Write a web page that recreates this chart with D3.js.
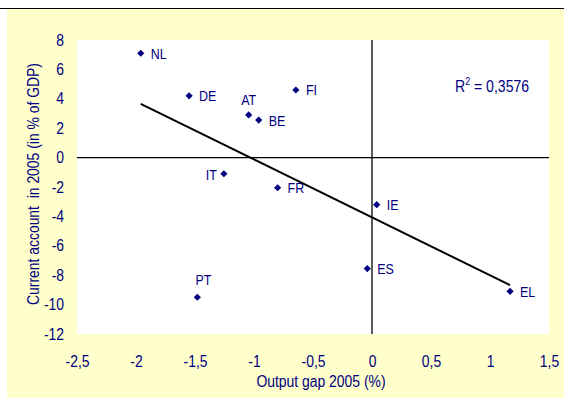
<!DOCTYPE html>
<html><head><meta charset="utf-8">
<script src="https://cdn.jsdelivr.net/npm/d3@7"></script>
<style>body{margin:0;background:#fff}svg{display:block}</style>
</head><body>
<script>
// ---- data ----
const countries = ["NL","DE","AT","BE","FI","IT","FR","IE","ES","PT","EL"];
const outputGap = [-1.96,-1.55,-1.045,-0.96,-0.645,-1.255,-0.80,0.04,-0.04,-1.48,1.17];
const currentAccount = [7.1,4.2,2.9,2.55,4.6,-1.1,-2.05,-3.2,-7.55,-9.5,-9.1];
const xTicks = [-2.5,-2,-1.5,-1,-0.5,0,0.5,1,1.5];
const yTicks = [8,6,4,2,0,-2,-4,-6,-8,-10,-12];
const rSquaredText = "0,3576";
const xTitle = "Output gap 2005 (%)";
const yTitle = "Current account  in 2005 (in % of GDP)";

// label placement (layout config)
const labelPlace = {NL:"right",DE:"right",AT:"above",BE:"right",FI:"right",IT:"left",FR:"right",IE:"right",ES:"right",PT:"aboveR",EL:"right"};

const W = 564, H = 402;
const plot = {l:77, r:549, t:40, b:334};
const navy = "#000080";
const font = "'Liberation Sans', Arial, sans-serif";
const SX = 0.87;

const svg = d3.select("body").append("svg").attr("width", W).attr("height", H);
svg.append("rect").attr("width", W).attr("height", H).attr("fill", "#fff");
svg.append("rect").attr("x", 7).attr("y", 9).attr("width", W-7).attr("height", 389).attr("fill", "#ffffcc");
svg.append("line").attr("x1", 0).attr("x2", W).attr("y1", 8.5).attr("y2", 8.5).attr("stroke", "#000").attr("stroke-width", 1);
svg.append("rect").attr("x", plot.l).attr("y", plot.t).attr("width", plot.r-plot.l).attr("height", plot.b-plot.t).attr("fill", "#fff");

const x = d3.scaleLinear().domain([-2.5, 1.5]).range([plot.l, plot.r]);
const y = d3.scaleLinear().domain([-12, 8]).range([plot.b, plot.t]);
const fmt = d => String(d).replace(".", ",");

// axes (labels only)
const xAxis = svg.append("g").attr("transform", `translate(0,${plot.b})`)
  .call(d3.axisBottom(x).tickValues(xTicks).tickFormat(fmt).tickSize(0).tickPadding(22));
const yAxis = svg.append("g").attr("transform", `translate(${plot.l},0)`)
  .call(d3.axisLeft(y).tickValues(yTicks).tickFormat(fmt).tickSize(0).tickPadding(13));
[xAxis, yAxis].forEach(g => {
  g.select(".domain").remove();
  g.selectAll("text").attr("fill", navy).attr("font-family", font).attr("font-size", 16);
});
yAxis.selectAll("text").attr("transform", `scale(${SX},1)`).attr("x", -13/SX);
xAxis.selectAll("text").attr("transform", `scale(${SX},1)`);

// zero lines
svg.append("line").attr("x1", plot.l).attr("x2", plot.r).attr("y1", y(0)).attr("y2", y(0))
  .attr("stroke", "#000").attr("stroke-width", 1.3);
svg.append("line").attr("x1", x(0)).attr("x2", x(0)).attr("y1", plot.t).attr("y2", plot.b)
  .attr("stroke", "#000").attr("stroke-width", 1.3);

// linear trend (least squares)
const n = countries.length;
const mx = d3.mean(outputGap), my = d3.mean(currentAccount);
let sxy = 0, sxx = 0;
for (let i = 0; i < n; i++) { sxy += (outputGap[i]-mx)*(currentAccount[i]-my); sxx += (outputGap[i]-mx)**2; }
const slope = sxy/sxx, icpt = my - slope*mx;
const [x0, x1] = d3.extent(outputGap);
svg.append("line").attr("x1", x(x0)).attr("y1", y(icpt+slope*x0)).attr("x2", x(x1)).attr("y2", y(icpt+slope*x1))
  .attr("stroke", "#000").attr("stroke-width", 2);

// points
const pts = countries.map((c, i) => ({c, gx: outputGap[i], ca: currentAccount[i]}));
svg.append("g").selectAll("path").data(pts).join("path")
  .attr("transform", d => `translate(${x(d.gx)},${y(d.ca)})`)
  .attr("d", "M0,-3.6L3.6,0L0,3.6L-3.6,0Z").attr("fill", navy);

const LS = 0.86;
svg.append("g").selectAll("text").data(pts).join("text")
  .attr("transform", d => {
    const px = x(d.gx), py = y(d.ca), p = labelPlace[d.c];
    let tx = px + 10, ty = py + 5.5;
    if (p === "above") { tx = px; ty = py - 10; }
    if (p === "aboveR") { tx = px + 6; ty = py - 12; }
    if (p === "left") { tx = px - 7; ty = py + 6.5; }
    return `translate(${tx},${ty}) scale(${LS},1)`;
  })
  .attr("text-anchor", d => { const p = labelPlace[d.c]; return p === "left" ? "end" : (p === "above" || p === "aboveR") ? "middle" : "start"; })
  .attr("fill", navy).attr("font-family", font).attr("font-size", 14.5)
  .text(d => d.c);

// R² annotation
const rt = svg.append("text").attr("transform", `translate(455,92) scale(0.88,1)`)
  .attr("fill", navy).attr("font-family", font).attr("font-size", 16);
rt.append("tspan").text("R");
rt.append("tspan").attr("font-size", 10).attr("dy", -7).text("2");
rt.append("tspan").attr("dy", 7).text(" = " + rSquaredText);

// axis titles
svg.append("text").attr("transform", `translate(321,387) scale(${SX},1)`).attr("text-anchor", "middle")
  .attr("fill", navy).attr("font-family", font).attr("font-size", 16).style("white-space","pre").text(xTitle);
svg.append("text").attr("transform", `translate(39,184) rotate(-90) scale(${SX},1)`).attr("text-anchor", "middle")
  .attr("fill", navy).attr("font-family", font).attr("font-size", 16).style("white-space","pre").text(yTitle);
</script>
</body></html>
